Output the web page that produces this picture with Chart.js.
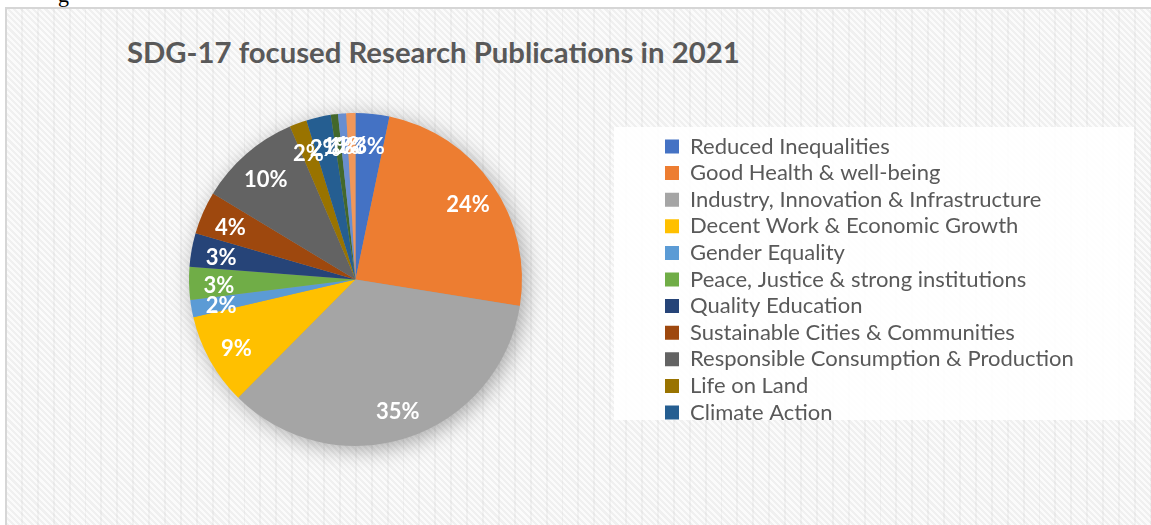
<!DOCTYPE html>
<html>
<head>
<meta charset="utf-8">
<title>SDG-17 focused Research Publications in 2021</title>
<script src="https://cdn.jsdelivr.net/npm/chart.js@4/dist/chart.umd.min.js"></script>
<style>
    body {
        margin: 0;
        width: 1151px;
        height: 525px;
        overflow: hidden;
        background: #ffffff;
        position: relative;
    }
    .cut-text {
        position: absolute;
        left: 58px;
        top: -18px;
        font-family: 'Liberation Serif', serif;
        font-size: 22px;
        color: #000;
    }
    .frame {
        position: absolute;
        left: 5px;
        top: 7px;
        width: 1150px;
        height: 520px;
        border-left: 2px solid #d6d6d6;
        border-top: 2px solid #d6d6d6;
        background:
            repeating-linear-gradient(90deg, transparent 0px, transparent 14px, rgba(0,0,0,0.035) 14px, rgba(0,0,0,0.035) 15.9px),
            repeating-linear-gradient(45deg, #fbfbfb 0px, #fbfbfb 2.2px, #f0f0f0 2.2px, #f0f0f0 4.4px);
    }
    .legend-bg {
        position: absolute;
        left: 614px;
        top: 127px;
        width: 520px;
        height: 293px;
        background: rgba(255,255,255,0.88);
    }
    .title {
        position: absolute;
        left: 127px;
        top: 35px;
        font-family: Lato, 'Open Sans', sans-serif;
        font-weight: bold;
        font-size: 29.3px;
        line-height: 34px;
        color: #595959;
        white-space: nowrap;
    }
    .chart-box {
        position: absolute;
        left: 0;
        top: 0;
        width: 1151px;
        height: 525px;
    }
</style>
</head>
<body>
<div class="cut-text">g</div>
<div class="frame"></div>
<div class="legend-bg"></div>
<div class="title">SDG-17 focused Research Publications in 2021</div>
<div class="chart-box"><canvas id="sdgChart"></canvas></div>

<script>
// Chart data (share of publications, clockwise from 12 o'clock)
const categories = [
    'Reduced Inequalities',
    'Good Health & well-being',
    'Industry, Innovation & Infrastructure',
    'Decent Work & Economic Growth',
    'Gender Equality',
    'Peace, Justice & strong institutions',
    'Quality Education',
    'Sustainable Cities & Communities',
    'Responsible Consumption & Production',
    'Life on Land',
    'Climate Action',
    'Clean Water & Sanitation',
    'Affordable & Clean Energy',
    'Life Below Water'
];
const shares = [3.3, 24.5, 35.2, 9.0, 1.7, 3.2, 3.3, 4.2, 10.0, 1.7, 2.4, 0.7, 0.8, 0.9];
const sliceColors = [
    '#4472C4', '#ED7D31', '#A5A5A5', '#FFC000', '#5B9BD5', '#70AD47', '#264478',
    '#9E480E', '#636363', '#997300', '#255E91', '#43682B', '#698ED0', '#F1975A'
];

// Only the first entries fit in the legend area
const legendCount = 11;

// Where the legend column should start (left edge of legend box)
const legendLeft = 660.4;

// Soft shadow under the pie
const pieShadow = {
    id: 'pieShadow',
    beforeDatasetsDraw(chart) {
        const arc = chart.getDatasetMeta(0).data[0];
        if (!arc) return;
        const {x, y, outerRadius} = arc.getProps(['x', 'y', 'outerRadius'], true);
        const ctx = chart.ctx;
        ctx.save();
        ctx.shadowColor = 'rgba(0,0,0,0.35)';
        ctx.shadowBlur = 22;
        ctx.shadowOffsetX = 4;
        ctx.shadowOffsetY = 4;
        ctx.beginPath();
        ctx.arc(x, y, outerRadius - 1, 0, Math.PI * 2);
        ctx.fillStyle = '#999999';
        ctx.fill();
        ctx.restore();
    }
};

// Percentage labels inside the slices
const sliceLabels = {
    id: 'sliceLabels',
    afterDatasetsDraw(chart) {
        const meta = chart.getDatasetMeta(0);
        const values = chart.data.datasets[0].data;
        const total = values.reduce((a, b) => a + b, 0);
        const ctx = chart.ctx;
        ctx.save();
        ctx.font = 'bold 22px Lato, sans-serif';
        ctx.fillStyle = '#ffffff';
        ctx.textAlign = 'center';
        ctx.textBaseline = 'middle';
        meta.data.forEach((arc, i) => {
            const p = arc.getProps(['x', 'y', 'startAngle', 'endAngle', 'outerRadius'], true);
            const mid = (p.startAngle + p.endAngle) / 2;
            const r = p.outerRadius * 0.82;
            const pct = Math.round(values[i] / total * 100);
            ctx.fillText(pct + '%', p.x + Math.cos(mid) * r, p.y + Math.sin(mid) * r + 3);
        });
        ctx.restore();
    }
};

// Initialize chart
function initializeChart() {
    const ctx = document.getElementById('sdgChart').getContext('2d');

    const chart = new Chart(ctx, {
        type: 'pie',
        data: {
            labels: categories,
            datasets: [{
                data: shares,
                backgroundColor: sliceColors,
                borderWidth: 0,
                hoverOffset: 0
            }]
        },
        options: {
            responsive: true,
            maintainAspectRatio: false,
            animation: false,
            layout: {
                padding: { left: 50.6, right: 100, top: 113, bottom: 79 }
            },
            plugins: {
                tooltip: { enabled: false },
                legend: {
                    position: 'right',
                    labels: {
                        boxWidth: 14,
                        boxHeight: 14,
                        padding: 4.6,
                        color: '#595959',
                        font: { size: 22, family: 'Lato' },
                        filter: (item) => item.index < legendCount
                    }
                }
            }
        },
        plugins: [pieShadow, sliceLabels]
    });

    // Move the legend column to its place, pie stays centred in what is left
    const shift = chart.legend.left - legendLeft;
    chart.options.layout.padding.right += shift;
    chart.update();
}

initializeChart();
</script>
</body>
</html>
